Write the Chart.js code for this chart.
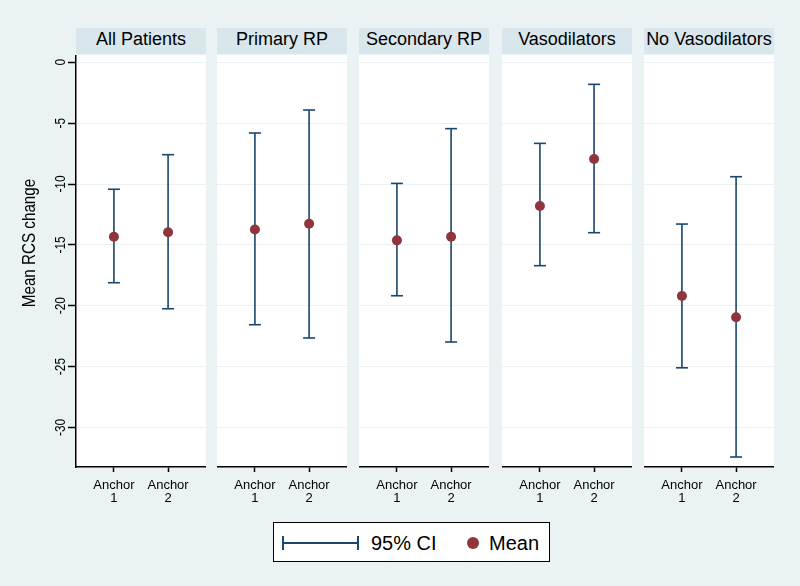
<!DOCTYPE html>
<html>
<head>
<meta charset="utf-8">
<title>Mean RCS change by anchor</title>
<script src="https://cdn.jsdelivr.net/npm/chart.js@4.4.1/dist/chart.umd.min.js"></script>
<style>
  html, body { margin: 0; padding: 0; }
  body {
    width: 800px; height: 586px; position: relative; overflow: hidden;
    background: #eaf2f3;
    font-family: "Liberation Sans", Arial, sans-serif;
  }
  .strip {
    position: absolute; top: 28px; height: 26px;
    background: #d9e6eb; color: #000;
    font-size: 18px; line-height: 23px; text-align: center; white-space: nowrap;
  }
  canvas.panel { position: absolute; top: 55px; }
  #legend {
    position: absolute; left: 273px; top: 522px; width: 277px; height: 40px;
    box-sizing: border-box; border: 1px solid #000; background: #fff;
  }
  #legend .txt { position: absolute; top: 10px; font-size: 20px; line-height: 20px; color: #000; white-space: nowrap; }
</style>
</head>
<body>

<div id="strips"></div>
<div id="panels"></div>

<div id="legend">
  <div style="position:absolute;left:8px;top:19px;width:77px;height:2px;background:#1a476f"></div>
  <div style="position:absolute;left:8px;top:13px;width:2px;height:14px;background:#1a476f"></div>
  <div style="position:absolute;left:83px;top:13px;width:2px;height:14px;background:#1a476f"></div>
  <span class="txt" style="left:97px">95% CI</span>
  <div style="position:absolute;left:193px;top:14px;width:12px;height:12px;border-radius:50%;background:#90353b"></div>
  <span class="txt" style="left:215px">Mean</span>
</div>

<script>
/* =============================================
   DATA
   ============================================= */
const panelNames = ['All Patients', 'Primary RP', 'Secondary RP', 'Vasodilators', 'No Vasodilators'];

const xTicks = [1, 2];
const xTickLabels = [['Anchor', '1'], ['Anchor', '2']];
const yTicks = [0, -5, -10, -15, -20, -25, -30];

const anchor1Mean  = [-14.33, -13.73, -14.63, -11.81, -19.20];
const anchor1Lower = [-18.11, -21.56, -19.18, -16.71, -25.10];
const anchor1Upper = [-10.43,  -5.81,  -9.95,  -6.66, -13.29];

const anchor2Mean  = [-13.97, -13.26, -14.33,  -7.95, -20.95];
const anchor2Lower = [-20.25, -22.65, -22.98, -14.00, -32.43];
const anchor2Upper = [ -7.59,  -3.92,  -5.45,  -1.81,  -9.40];

/* =============================================
   LAYOUT + STYLE
   ============================================= */
const FONT = '"Liberation Sans", Arial, sans-serif';
const CI_COLOR = '#1a476f';
const MEAN_COLOR = '#90353b';
const GRID_COLOR = '#eaf2f3';

// plot-region left edge and width of each panel (page px)
const panelLeft = [76, 217, 359, 502, 644];
const panelWidth = 130;
const yAxisWidth = 76;   // only the first panel carries the y axis

// white plot region behind gridlines
const plotBg = {
  id: 'plotBg',
  beforeDraw(chart) {
    const { ctx, chartArea: a } = chart;
    ctx.save();
    ctx.fillStyle = '#fff';
    ctx.fillRect(a.left, a.top, a.right - a.left, a.bottom - a.top);
    ctx.restore();
  }
};

// Stata style vertical tick labels and axis title
const yAxisText = {
  id: 'yAxisText',
  afterDraw(chart) {
    const ctx = chart.ctx;
    const y = chart.scales.y;
    ctx.save();
    ctx.fillStyle = '#000';
    ctx.textAlign = 'center';
    ctx.textBaseline = 'alphabetic';
    ctx.font = '14px ' + FONT;
    y.ticks.forEach(t => {
      ctx.save();
      ctx.translate(65, y.getPixelForValue(t.value));
      ctx.rotate(-Math.PI / 2);
      ctx.scale(0.85, 1);
      ctx.fillText(String(t.value), 0, 0);
      ctx.restore();
    });
    ctx.font = '19px ' + FONT;
    ctx.translate(34.5, 243 - 55);
    ctx.rotate(-Math.PI / 2);
    ctx.scale(0.8, 1);
    ctx.fillText('Mean RCS change', 0, 0);
    ctx.restore();
  }
};

/* =============================================
   BUILD PANELS
   ============================================= */
const stripBox = document.getElementById('strips');
const panelBox = document.getElementById('panels');

panelNames.forEach((name, i) => {
  const strip = document.createElement('div');
  strip.className = 'strip';
  strip.style.left = panelLeft[i] + 'px';
  strip.style.width = panelWidth + 'px';
  strip.textContent = name;
  stripBox.appendChild(strip);

  const first = i === 0;
  const canvas = document.createElement('canvas');
  canvas.className = 'panel';
  canvas.width = first ? panelWidth + yAxisWidth : panelWidth;
  canvas.height = 457;
  canvas.style.left = (first ? panelLeft[i] - yAxisWidth : panelLeft[i]) + 'px';
  panelBox.appendChild(canvas);

  new Chart(canvas, {
    type: 'scatter',
    data: {
      datasets: [
        {
          label: 'Mean',
          data: [{ x: 1, y: anchor1Mean[i] }, { x: 2, y: anchor2Mean[i] }],
          pointRadius: 5,
          pointBackgroundColor: MEAN_COLOR,
          pointBorderWidth: 0,
          order: 0
        },
        {
          label: '95% CI',
          data: [
            { x: 1, y: anchor1Upper[i] }, { x: 1, y: anchor1Lower[i] },
            { x: 1, y: null },
            { x: 2, y: anchor2Upper[i] }, { x: 2, y: anchor2Lower[i] }
          ],
          showLine: true,
          spanGaps: false,
          borderColor: CI_COLOR,
          borderWidth: 1.6,
          pointStyle: 'line',
          pointRadius: 6,
          pointBorderColor: CI_COLOR,
          pointBorderWidth: 1.6,
          order: 1
        }
      ]
    },
    options: {
      responsive: false,
      animation: false,
      events: [],
      devicePixelRatio: 1,
      layout: { padding: 0, autoPadding: false },
      plugins: { legend: { display: false }, tooltip: { enabled: false } },
      scales: {
        x: {
          type: 'linear',
          min: 0.3,
          max: 2.7,
          afterBuildTicks: s => { s.ticks = xTicks.map(v => ({ value: v })); },
          afterFit: s => { s.height = 45; },
          ticks: {
            callback: v => xTickLabels[xTicks.indexOf(v)],
            color: '#000',
            font: { size: 13, family: FONT, lineHeight: 1 },
            padding: 7,
            maxRotation: 0,
            autoSkip: false
          },
          grid: { drawOnChartArea: false, drawTicks: true, tickLength: 5, tickColor: '#000', tickWidth: 1.5 },
          border: { color: '#000', width: 1.5 }
        },
        y: {
          type: 'linear',
          min: -33.25,
          max: 0.6,
          afterBuildTicks: s => { s.ticks = yTicks.map(v => ({ value: v })); },
          afterFit: s => { s.width = first ? yAxisWidth : 0; },
          ticks: { display: false },
          grid: { color: GRID_COLOR, lineWidth: 1, drawTicks: first, tickLength: 8, tickColor: '#000', tickWidth: 1.5 },
          border: { display: first, color: '#000', width: 1.5 }
        }
      }
    },
    plugins: first ? [plotBg, yAxisText] : [plotBg]
  });
});
</script>
</body>
</html>
